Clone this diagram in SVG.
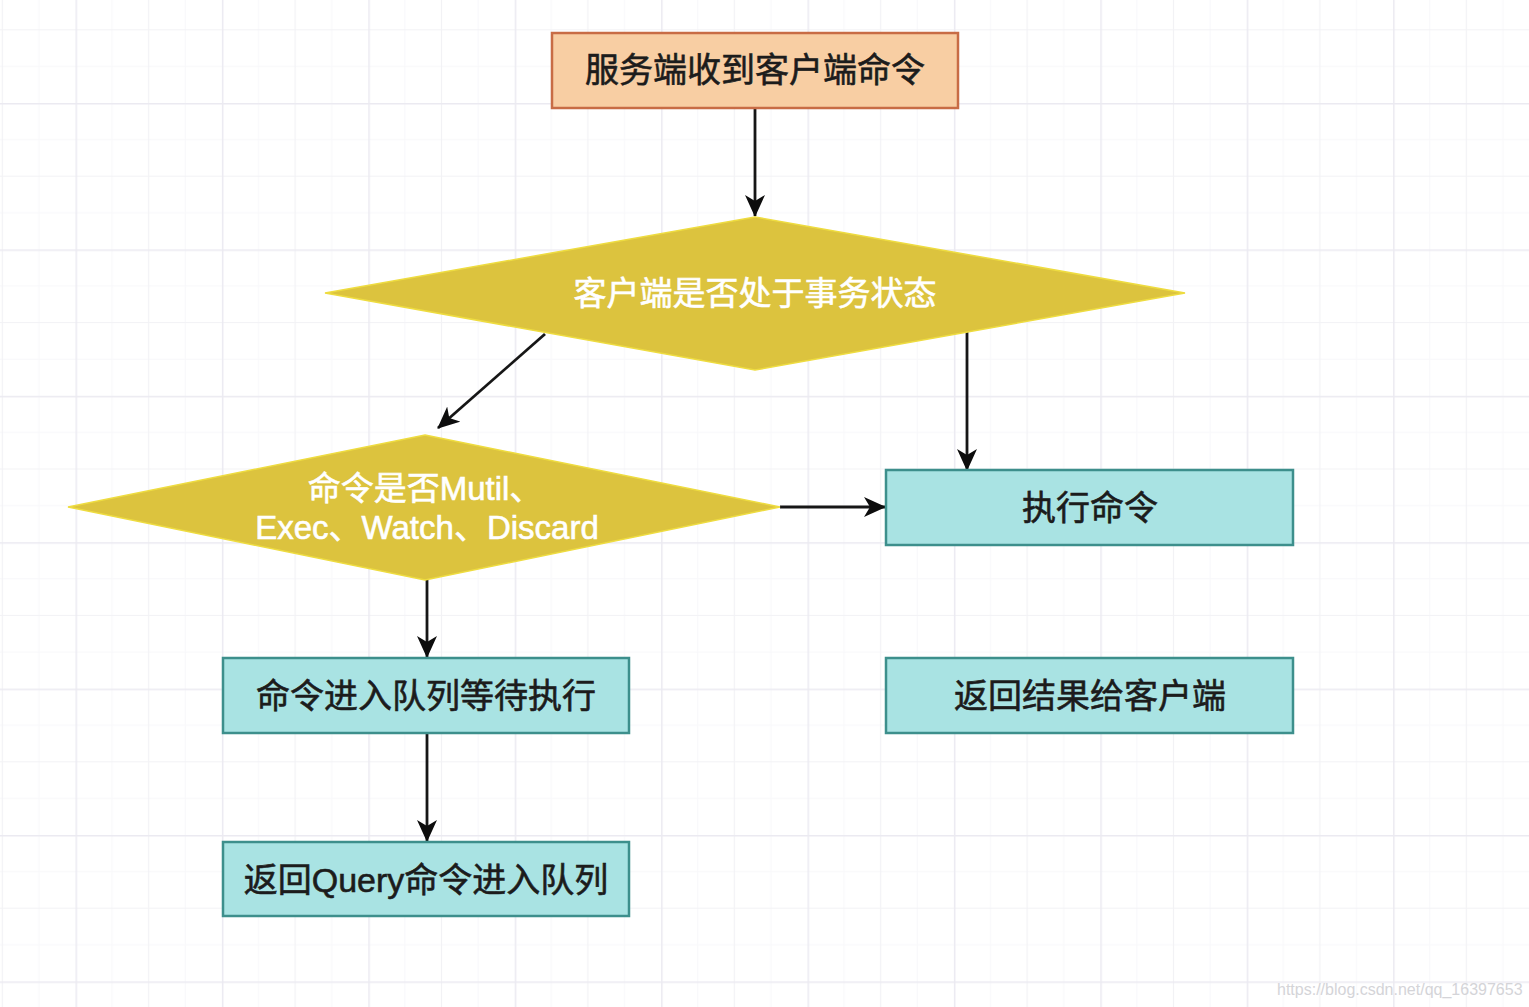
<svg xmlns="http://www.w3.org/2000/svg" width="1529" height="1007" viewBox="0 0 1529 1007">
  <defs>
    <pattern id="grid" x="75.5" y="103" width="146.4" height="146.4" patternUnits="userSpaceOnUse">
      <path d="M36.6 0V146.4M109.8 0V146.4M0 36.6H146.4M0 109.8H146.4" stroke="#f8f8fa" stroke-width="1" fill="none"/>
      <path d="M73.2 0V146.4M0 73.2H146.4" stroke="#f2f2f5" stroke-width="1.2" fill="none"/>
      <path d="M0.75 0V146.4M0 0.75H146.4" stroke="#ebeaf1" stroke-width="1.5" fill="none"/>
    </pattern>
    <marker id="arr" viewBox="0 0 22 20" refX="21" refY="10" markerWidth="22" markerHeight="20" markerUnits="userSpaceOnUse" orient="auto">
      <path d="M0 0 L22 10 L0 20 L6 10 Z" fill="#0d0d0d"/>
    </marker>
    <style>
      .edge { stroke: #161616; stroke-width: 2.8; fill: none; marker-end: url(#arr); }
      .peach { fill: #f8cea3; stroke: #c86c45; stroke-width: 2.5; }
      .cyan { fill: #a9e3e3; stroke: #3d8f8c; stroke-width: 2.5; }
      .dia { fill: #dcc33e; stroke: #eedc40; stroke-width: 1.5; }
      .dark { font-family: "Liberation Sans", "Noto Sans CJK SC", sans-serif; font-size: 34px; fill: #1c1c1c; stroke: #1c1c1c; stroke-width: 0.6; text-anchor: middle; }
      .light { font-family: "Liberation Sans", "Noto Sans CJK SC", sans-serif; font-size: 33px; fill: #ffffff; stroke: #ffffff; stroke-width: 0.6; text-anchor: middle; }
      .wm { font-family: "Liberation Sans", sans-serif; font-size: 16px; fill: #d4d4d8; }
    </style>
  </defs>
  <rect x="0" y="0" width="1529" height="1007" fill="#ffffff"/>
  <rect x="0" y="0" width="1529" height="1007" fill="url(#grid)"/>

  <g id="connectors">
    <path class="edge" d="M755 108 V216"/>
    <path class="edge" d="M545 334 L438 428"/>
    <path class="edge" d="M967 332 V470"/>
    <path class="edge" d="M780 507 H885"/>
    <path class="edge" d="M427 580 V657"/>
    <path class="edge" d="M427 733 V841"/>
  </g>

  <g id="node-receive">
    <rect class="peach" x="552" y="33" width="406" height="75"/>
    <text class="dark" x="755" y="82">服务端收到客户端命令</text>
  </g>

  <g id="node-in-transaction">
    <polygon class="dia" points="755,217 1185,293 755,370 325,293"/>
    <text class="light" x="755" y="305">客户端是否处于事务状态</text>
  </g>

  <g id="node-is-multi">
    <polygon class="dia" points="425,435 780,507 425,580 68,507"/>
    <text class="light" x="425" y="500">命令是否Mutil、</text>
    <text class="light" x="427" y="539">Exec、Watch、Discard</text>
  </g>

  <g id="node-execute">
    <rect class="cyan" x="886" y="470" width="407" height="75"/>
    <text class="dark" x="1090" y="520">执行命令</text>
  </g>

  <g id="node-return-result">
    <rect class="cyan" x="886" y="658" width="407" height="75"/>
    <text class="dark" x="1090" y="708">返回结果给客户端</text>
  </g>

  <g id="node-enqueue">
    <rect class="cyan" x="223" y="658" width="406" height="75"/>
    <text class="dark" x="426" y="708">命令进入队列等待执行</text>
  </g>

  <g id="node-return-queued">
    <rect class="cyan" x="223" y="842" width="406" height="74"/>
    <text class="dark" x="426" y="892">返回Query命令进入队列</text>
  </g>

  <text class="wm" x="1277" y="995">https://blog.csdn.net/qq_16397653</text>
</svg>
